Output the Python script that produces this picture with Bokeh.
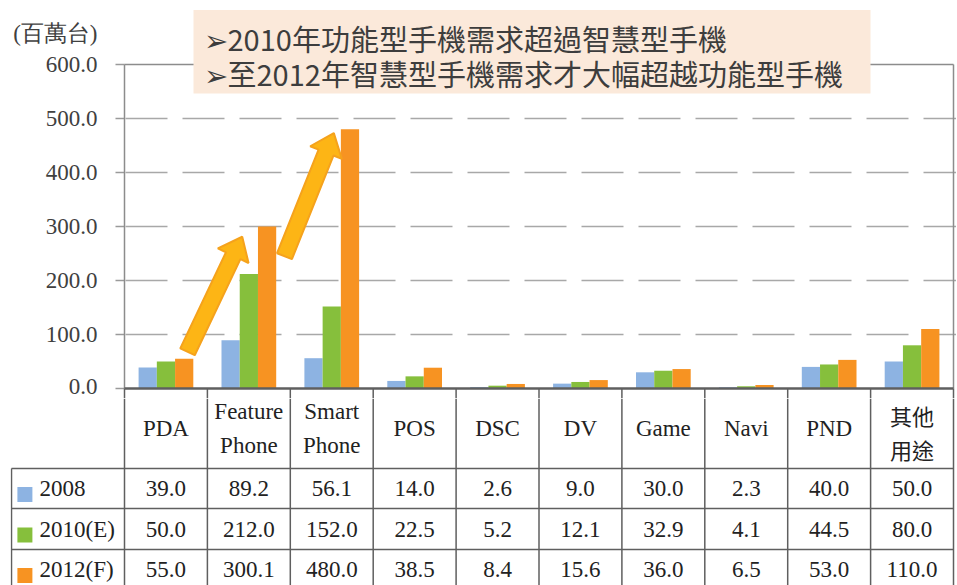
import math
import numpy as np
from bokeh.plotting import figure
from bokeh.models import Range1d, FixedTicker, ColumnDataSource, PrintfTickFormatter
from bokeh.layouts import column
from bokeh.core.properties import value
from bokeh.embed import file_html
from bokeh.resources import INLINE

# ---------------- data ----------------
CATEGORIES = ["PDA", "Feature\nPhone", "Smart\nPhone", "POS", "DSC", "DV",
              "Game", "Navi", "PND", "其他\n用途"]
SERIES = ["2008", "2010(E)", "2012(F)"]
V2008 = [39.0, 89.2, 56.1, 14.0, 2.6, 9.0, 30.0, 2.3, 40.0, 50.0]
V2010 = [50.0, 212.0, 152.0, 22.5, 5.2, 12.1, 32.9, 4.1, 44.5, 80.0]
V2012 = [55.0, 300.1, 480.0, 38.5, 8.4, 15.6, 36.0, 6.5, 53.0, 110.0]
VALUES = [V2008, V2010, V2012]
Y_TICKS = [0, 100, 200, 300, 400, 500, 600]
UNIT_LABEL = "(百萬台)"
UNIT_POS = 657
NOTES = ["➢2010年功能型手機需求超過智慧型手機",
         "➢至2012年智慧型手機需求才大幅超越功能型手機"]
# arrows (data coords): (tail x, tail y) -> (tip x, tip y)
ARROWS = [((0.76, 68.0), (1.42, 281.0)),
          ((1.93, 245.0), (2.525, 473.0))]

# ---------------- style ----------------
COLORS = ["#8DB3E2", "#86BF3C", "#F79322"]
SERIF = "Liberation Serif"
CJK = "Noto Sans CJK TC"
TABLE_LINE = "#5f5f5f"
AXIS_GREY = "#8c8c8c"

N = len(CATEGORIES)
W = 956
KX = 82.9            # px per category
AXIS_PX = 124        # x=0 position in px
FRAME_L = 114
X0 = (FRAME_L - AXIS_PX) / KX
X1 = (W - AXIS_PX) / KX
TOP_H = 398
ZERO_PX = 388
KY = 0.54            # px per unit
Y0 = -(TOP_H - ZERO_PX) / KY
Y1 = ZERO_PX / KY


def no_align(fig):
    if "frame_align" in fig.properties():
        fig.frame_align = False


# ---------------- chart ----------------
p = figure(width=W, height=TOP_H, x_range=Range1d(X0, X1), y_range=Range1d(Y0, Y1),
           output_backend="svg", toolbar_location=None, x_axis_location=None,
           min_border_left=FRAME_L, min_border_right=0, min_border_top=0, min_border_bottom=0)
no_align(p)
p.outline_line_color = None
p.background_fill_color = "white"
p.border_fill_color = "white"
p.xgrid.visible = False
p.ygrid.ticker = FixedTicker(ticks=Y_TICKS[1:-1])
p.ygrid.grid_line_color = "#a8a8a8"
p.ygrid.grid_line_width = 1.5
p.ygrid.grid_line_dash = "42 15"
p.ygrid.grid_line_dash_offset = 46

ax = p.yaxis[0]
ax.ticker = FixedTicker(ticks=Y_TICKS + [UNIT_POS])
ax.formatter = PrintfTickFormatter(format="%.1f")
ax.major_label_overrides = {UNIT_POS: UNIT_LABEL}
ax.axis_line_color = None
ax.major_tick_out = 0
ax.major_tick_in = 0
ax.minor_tick_out = 0
ax.minor_tick_in = 0
ax.major_tick_line_color = None
ax.major_label_standoff = 17
ax.major_label_text_font = SERIF
ax.major_label_text_font_size = "23px"
ax.major_label_text_color = "#404040"

idx = np.arange(N) + 0.5
OFFS = [-0.22, 0.0, 0.22]
for k in range(3):
    src = ColumnDataSource(dict(x=idx + OFFS[k], top=VALUES[k]))
    p.vbar(x="x", top="top", width=0.22, bottom=0, source=src,
           fill_color=COLORS[k], line_color=None)

# tick marks
TICK_X = -9.0 / KX
p.segment(x0=[TICK_X] * len(Y_TICKS), y0=Y_TICKS, x1=[0] * len(Y_TICKS), y1=Y_TICKS,
          line_color="#9a9a9a", line_width=1.5)
# plot border (axis line, top, right)
p.segment(x0=[0, 0, N], y0=[0, Y_TICKS[-1], 0], x1=[0, N, N], y1=[Y_TICKS[-1]] * 3,
          line_color=AXIS_GREY, line_width=1.5)
# start of table inside the lower strip
p.segment(x0=list(range(N + 1)), y0=[Y0] * (N + 1), x1=list(range(N + 1)), y1=[0] * (N + 1),
          line_color=TABLE_LINE, line_width=1.5)
p.segment(x0=[0], y0=[0], x1=[N], y1=[0], line_color=TABLE_LINE, line_width=2.5)


def block_arrow(tail, tip, shaft=8.0, head=17.0, head_len=21.0):
    X0p, Y0p = tail[0] * KX, tail[1] * KY
    X1p, Y1p = tip[0] * KX, tip[1] * KY
    dx, dy = X1p - X0p, Y1p - Y0p
    L = math.hypot(dx, dy)
    ux, uy = dx / L, dy / L
    nx, ny = -uy, ux
    neck = (X1p - ux * head_len, Y1p - uy * head_len)
    pts = [(X0p + nx * shaft, Y0p + ny * shaft),
           (neck[0] + nx * shaft, neck[1] + ny * shaft),
           (neck[0] + nx * head, neck[1] + ny * head),
           (X1p, Y1p),
           (neck[0] - nx * head, neck[1] - ny * head),
           (neck[0] - nx * shaft, neck[1] - ny * shaft),
           (X0p - nx * shaft, Y0p - ny * shaft)]
    return [q[0] / KX for q in pts], [q[1] / KY for q in pts]


axs, ays = [], []
for tail, tip in ARROWS:
    xs, ys = block_arrow(tail, tip)
    axs.append(xs)
    ays.append(ys)
p.patches(xs=axs, ys=ays, fill_color="#FDB515", line_color="#F5A21C", line_width=2)

# annotation box
BOX_L, BOX_R = (193 - AXIS_PX) / KX, (870 - AXIS_PX) / KX
BOX_T, BOX_B = (ZERO_PX - 9.5) / KY, (ZERO_PX - 93) / KY
p.quad(left=[BOX_L], right=[BOX_R], top=[BOX_T], bottom=[BOX_B],
       fill_color="#FBE9DA", line_color=None)
p.text(x=[(203 - AXIS_PX) / KX] * 2, y=[(ZERO_PX - 37) / KY, (ZERO_PX - 72) / KY], text=NOTES,
       text_font=value(CJK), text_font_size="29px", text_color="#3d3d3d",
       text_baseline="middle", text_align="left")

# ---------------- table ----------------
T_TOP, T_BOT = TOP_H, 585
ROW_LINES = [468, 508, 549]
ROW_MID = [488, 528.5, 569]
HEADER_MID = 428
TX0 = (10 - AXIS_PX) / KX
XL = (11 - AXIS_PX) / KX

t = figure(width=W, height=T_BOT - T_TOP, x_range=Range1d(TX0, X1),
           y_range=Range1d(T_BOT, T_TOP), output_backend="svg", toolbar_location=None,
           x_axis_location=None, y_axis_location=None,
           min_border_left=10, min_border_right=0, min_border_top=0, min_border_bottom=0)
no_align(t)
t.outline_line_color = None
t.grid.visible = False
t.background_fill_color = "white"
t.border_fill_color = "white"

t.segment(x0=list(range(N + 1)), y0=[T_TOP] * (N + 1), x1=list(range(N + 1)),
          y1=[T_BOT] * (N + 1), line_color=TABLE_LINE, line_width=1.5)
t.segment(x0=[XL], y0=[ROW_LINES[0]], x1=[XL], y1=[T_BOT], line_color=TABLE_LINE, line_width=1.5)
t.segment(x0=[XL] * 3, y0=ROW_LINES, x1=[N] * 3, y1=ROW_LINES,
          line_color=TABLE_LINE, line_width=1.5)

hx, hy, ht, cx, cy, ct = [], [], [], [], [], []
for i, lab in enumerate(CATEGORIES):
    lines = lab.split("\n")
    n = len(lines)
    for j, ln in enumerate(lines):
        yy = HEADER_MID + (j - (n - 1) / 2) * 34
        if all(ord(c) < 128 for c in ln):
            hx.append(i + 0.5); hy.append(yy); ht.append(ln)
        else:
            cx.append(i + 0.5); cy.append(yy + 3); ct.append(ln)
t.text(x=hx, y=hy, text=ht, text_font=value(SERIF), text_font_size="23px",
       text_color="#222222", text_align="center", text_baseline="middle")
t.text(x=cx, y=cy, text=ct, text_font=value(CJK), text_font_size="22px",
       text_color="#222222", text_align="center", text_baseline="middle")

vx, vy, vt = [], [], []
for k in range(3):
    for i in range(N):
        vx.append(i + 0.5); vy.append(ROW_MID[k]); vt.append(f"{VALUES[k][i]:.1f}")
t.text(x=vx, y=vy, text=vt, text_font=value(SERIF), text_font_size="23px",
       text_color="#222222", text_align="center", text_baseline="middle")

t.scatter(x=[(24.4 - AXIS_PX) / KX] * 3, y=[m + 6 for m in ROW_MID], marker="square", size=15,
          fill_color=COLORS, line_color=None)
t.text(x=[(39 - AXIS_PX) / KX] * 3, y=ROW_MID, text=SERIES, text_font=value(SERIF),
       text_font_size="23px", text_color="#222222", text_align="left", text_baseline="middle")

layout = column(p, t)
open("out.html", "w").write(file_html(layout, INLINE))
